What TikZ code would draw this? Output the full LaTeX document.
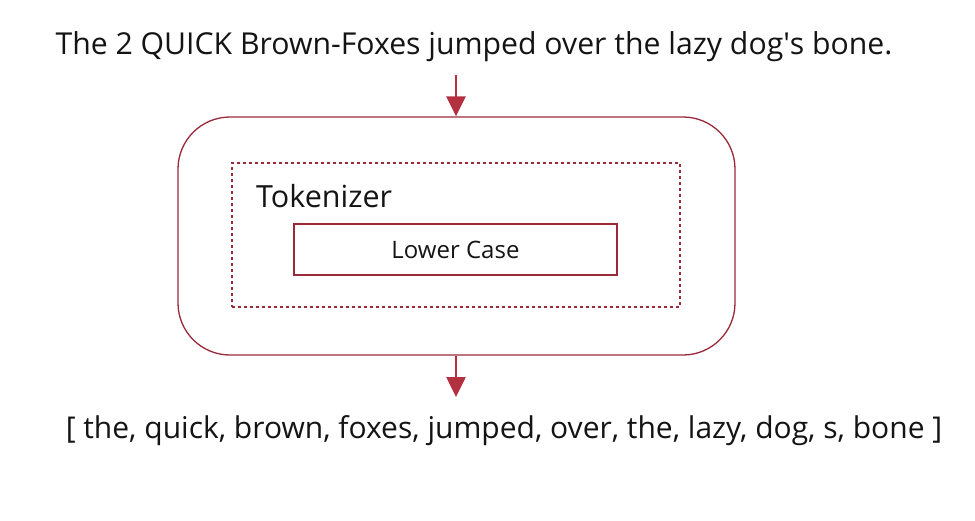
\documentclass[tikz,border=0pt]{standalone}
\usepackage{fontspec}
\setmainfont{Open Sans}
\newfontfamily\plainos{Open Sans}
\usetikzlibrary{arrows.meta,calc}
\definecolor{boxred}{HTML}{9A2A3A}
\definecolor{arrred}{HTML}{B3303F}
\definecolor{txt}{HTML}{141414}
\tikzset{
  lbl/.style={inner sep=0pt, text=txt, anchor=center},
  outerbox/.style={draw=boxred, line width=1.3pt, rounded corners=52pt, minimum width=557pt, minimum height=238pt, inner sep=0pt},
  dashbox/.style={draw=boxred, line width=1.2pt, dash pattern=on 3pt off 3pt, minimum width=448pt, minimum height=144pt, inner sep=0pt},
  lcbox/.style={draw=boxred, line width=1.3pt, minimum width=323pt, minimum height=51pt, inner sep=0pt, text=txt, font=\fontsize{24}{28}\selectfont},
  arr/.style={draw=arrred, line width=2.6pt, -{Triangle[width=19pt,length=20pt]}, arrred}
}
\begin{document}
\begin{tikzpicture}[x=1pt,y=-1pt]
\useasboundingbox[fill=white] (0,0) rectangle (975,520);
\node[lbl, font=\fontsize{30.2}{34}\selectfont] (src) at (474,47) {The 2 QUICK Brown-Foxes jumped over the lazy dog{\plainos '}s bone.};
\node[outerbox] (outer) at (456.5,236) {};
\node[dashbox] (tok) at (456,235) {};
\node[lbl, anchor=west, font=\fontsize{30.5}{34}\selectfont] (tokl) at (256,196) {Tokenizer};
\node[lcbox] (lc) at (455.5,249.5) {Lower Case};
\node[lbl, font=\fontsize{30}{34}\selectfont] (res) at (504,431) {[ the, quick, brown, foxes, jumped, over, the, lazy, dog, s, bone ]};
\coordinate (a1) at (456,75);
\coordinate (a2) at (456,397);
\draw[arr] (a1) -- (a1 |- outer.north);
\draw[arr] (a2 |- outer.south) -- (a2);
\end{tikzpicture}
\end{document}
